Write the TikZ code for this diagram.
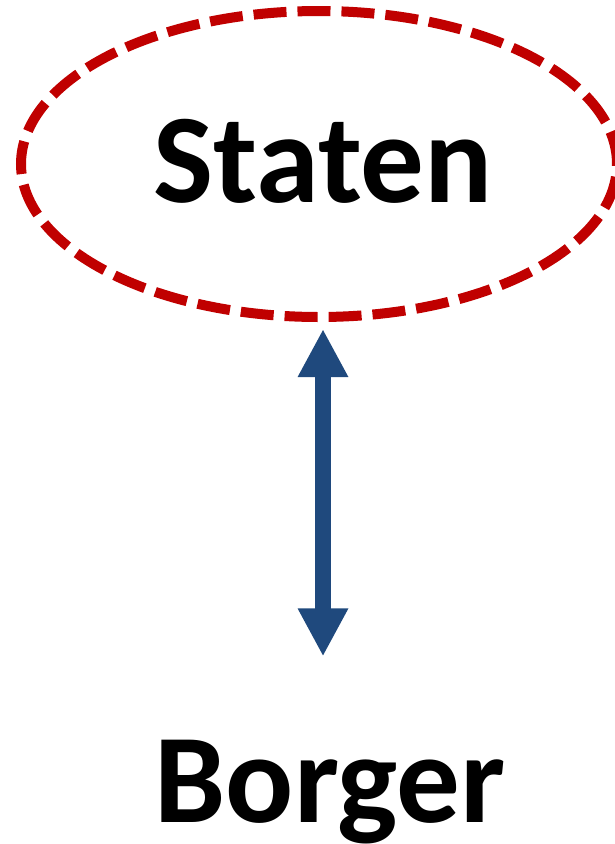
\documentclass[tikz,border=0pt]{standalone}
\usepackage{fontspec}
\setmainfont{Carlito}
\usetikzlibrary{shapes.geometric,arrows.meta,positioning}
\definecolor{darkred}{HTML}{C00000}
\definecolor{darkblue}{HTML}{1F497D}

\begin{document}
\begin{tikzpicture}[
    x=1pt, y=-1pt,
    actor/.style = {font=\fontsize{127}{127}\selectfont\bfseries, inner sep=0pt},
    state/.style = {ellipse, draw=darkred, line width=10pt, dash pattern=on 33pt off 11pt, minimum width=596pt, minimum height=306pt, inner sep=0pt},
    link/.style = {{Triangle[width=47pt,length=48pt]}-{Triangle[width=47pt,length=48pt]}, draw=darkblue, line width=16pt}
    ]
    \useasboundingbox (0,0) rectangle (615,844);
    \node[state] (statenring) at (319,164) {};
    \node[actor, anchor=base] (staten) at (323,202) {Staten};
    \node[actor, anchor=base] (borger) at (330,822) {Borger};

    \draw[link, shorten <=7pt, shorten >=83pt] (staten |- statenring.south) -- (staten |- borger.north);
\end{tikzpicture}
\end{document}
